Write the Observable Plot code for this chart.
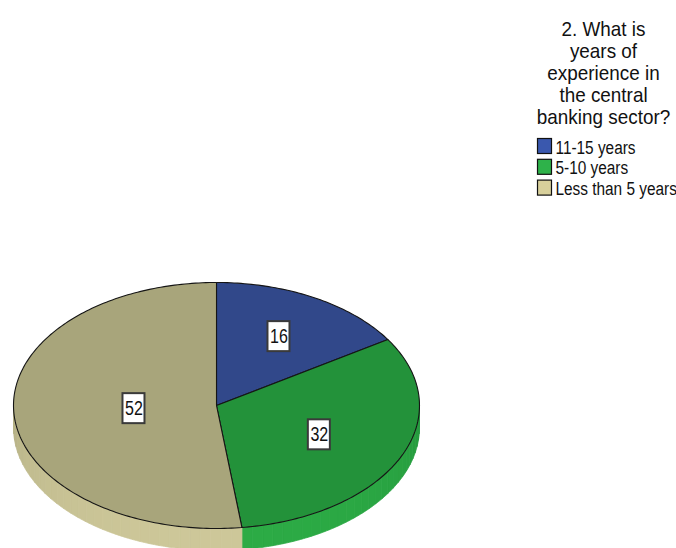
<!DOCTYPE html>
<html>
<head>
<meta charset="utf-8">
<script src="https://cdn.jsdelivr.net/npm/d3@7"></script>
<script src="https://cdn.jsdelivr.net/npm/@observablehq/plot@0.6"></script>
<style>
  html, body { margin: 0; padding: 0; background: #ffffff; }
  #chart svg { display: block; }
</style>
</head>
<body>
<div id="chart"></div>
<script>
// ---- data ----
const categories = ["11-15 years", "5-10 years", "Less than 5 years"];
const values = [16, 32, 52];
const titleLines = ["2. What is", "years of", "experience in", "the central", "banking sector?"];

// ---- styles ----
const faceColors = ["#31488a", "#23923a", "#a8a57b"];
const sideDark = ["#2b3f7a", "#22913a", "#aeaa7f"];
const sideLight = ["#3a55a0", "#2cab45", "#cdc799"];
const legendColors = ["#3a58ae", "#2eb24a", "#d8d09b"];
const FONT = "'Liberation Sans', Arial, sans-serif";

// ---- layout ----
const W = 676, H = 548;
const cx = 216, cy = 405, rx = 203, ry = 123, depth = 22;
const DEG = Math.PI / 180;

const total = d3.sum(values);
let acc = 0;
const slices = values.map((v, i) => {
  const a0 = acc / total * 2 * Math.PI;
  acc += v;
  const a1 = acc / total * 2 * Math.PI;
  return {i, v, a0, a1};
});
const pt = (t, dy = 0) => [cx + rx * Math.sin(t), cy - ry * Math.cos(t) + dy];

// top faces
const topRows = [];
for (const s of slices) {
  const n = Math.max(2, Math.ceil((s.a1 - s.a0) / DEG));
  const push = ([x, y]) => topRows.push({x, y, id: "top" + s.i, fill: faceColors[s.i]});
  push([cx, cy]);
  for (let k = 0; k <= n; k++) push(pt(s.a0 + (s.a1 - s.a0) * k / n));
  push([cx, cy]);
}

// side (visible front half) as shaded strips
const sideRows = [];
for (const s of slices) {
  const lo = Math.max(s.a0, Math.PI / 2), hi = Math.min(s.a1, 3 * Math.PI / 2);
  if (lo >= hi) continue;
  const n = Math.max(1, Math.ceil((hi - lo) / (3 * DEG)));
  const interp = d3.interpolateRgb(sideDark[s.i], sideLight[s.i]);
  for (let k = 0; k < n; k++) {
    const t0 = lo + (hi - lo) * k / n, t1 = lo + (hi - lo) * (k + 1) / n;
    const f = Math.sqrt(Math.max(0, -Math.cos((t0 + t1) / 2)));
    const col = interp(f);
    const id = "side" + s.i + "_" + k;
    const m = 6;
    const pts = [];
    for (let j = 0; j <= m; j++) pts.push(pt(t0 + (t1 - t0) * j / m));
    for (let j = m; j >= 0; j--) pts.push(pt(t0 + (t1 - t0) * j / m, depth));
    pts.push(pt(t0));
    for (const [x, y] of pts) sideRows.push({x, y, id, fill: col});
  }
}

// value labels at sector centroids
const labelRows = slices.map(s => {
  const th = s.a1 - s.a0, mid = (s.a0 + s.a1) / 2;
  const r = 4 * Math.sin(th / 2) / (3 * th);
  const x = cx + rx * r * Math.sin(mid), y = cy - ry * r * Math.cos(mid);
  return {x, y, x1: x - 11, x2: x + 11, y1: y - 15, y2: y + 15, label: String(s.v)};
});

// legend
const titleRows = titleLines.map((t, i) => ({x: 603, y: 35 + i * 22, text: t}));
const legendRows = categories.map((c, i) => ({
  x1: 537.5, x2: 551.5, y1: 138.5 + i * 20.8, y2: 153.5 + i * 20.8,
  tx: 555, ty: 153 + i * 20.8, text: c, fill: legendColors[i]
}));

const chart = Plot.plot({
  width: W, height: H,
  margin: 0,
  x: {domain: [0, W], range: [0, W], axis: null},
  y: {domain: [0, H], range: [0, H], axis: null},
  color: {type: "identity"},
  style: {fontFamily: FONT, background: "#ffffff", overflow: "hidden"},
  marks: [
    Plot.line(sideRows, {x: "x", y: "y", z: "id", fill: "fill", stroke: "fill", strokeWidth: 0.8, curve: "linear"}),
    Plot.line(topRows, {x: "x", y: "y", z: "id", fill: "fill", stroke: "#151515", strokeWidth: 1.1, strokeLinejoin: "round", curve: "linear"}),
    Plot.rect(labelRows, {x1: "x1", x2: "x2", y1: "y1", y2: "y2", fill: "#ffffff", stroke: "#3a3a3a", strokeWidth: 2}),
    Plot.text(labelRows, {x: "x", y: "y", text: "label", fontSize: 20, fill: "#111", lineAnchor: "middle"}),
    Plot.text(titleRows, {x: "x", y: "y", text: "text", fontSize: 21, fill: "#111", lineAnchor: "bottom", textAnchor: "middle"}),
    Plot.rect(legendRows, {x1: "x1", x2: "x2", y1: "y1", y2: "y2", fill: "fill", stroke: "#111", strokeWidth: 1.2}),
    Plot.text(legendRows, {x: "tx", y: "ty", text: "text", fontSize: 19, fill: "#111", lineAnchor: "bottom", textAnchor: "start"})
  ]
});

// horizontally condense the text (the reference uses a narrow rendering)
const textGroups = chart.querySelectorAll('g[aria-label="text"]');
const scales = [0.8, 0.9, 0.81];
textGroups.forEach((g, gi) => {
  g.querySelectorAll("text").forEach(t => {
    const tr = t.getAttribute("transform") || "";
    t.setAttribute("transform", tr + ` scale(${scales[gi]},1)`);
  });
});
document.getElementById("chart").appendChild(chart);
</script>
</body>
</html>
